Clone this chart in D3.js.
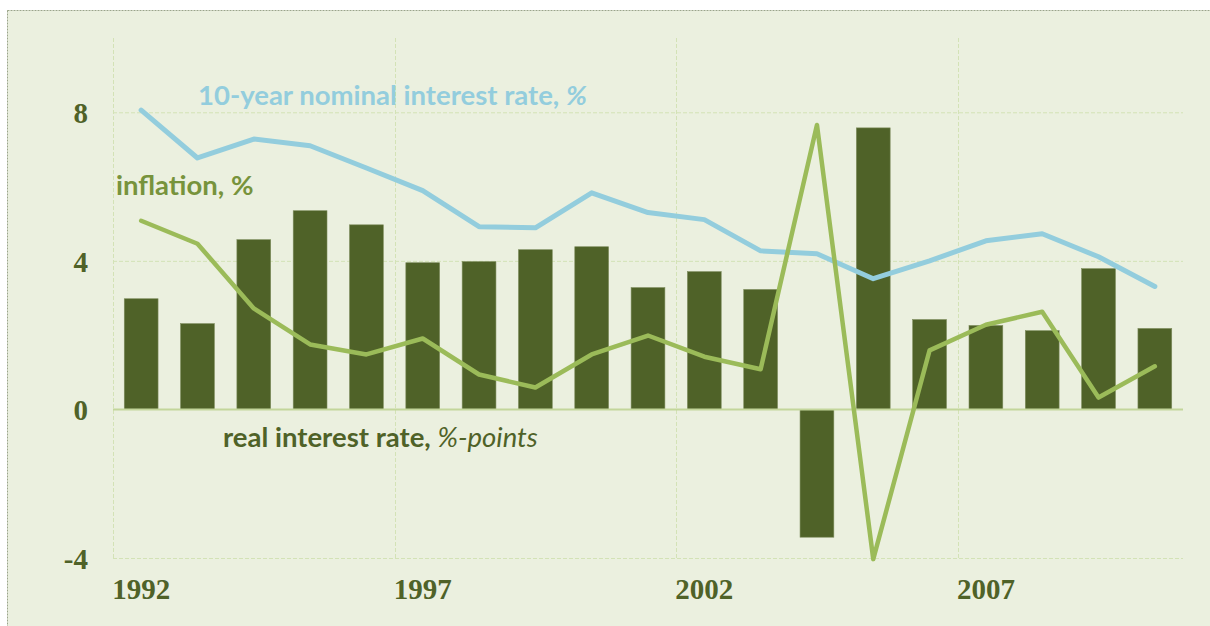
<!DOCTYPE html>
<html lang="en">
<head>
    <meta charset="UTF-8">
    <title>Real interest rate</title>
    <style>
        body {
            margin: 0;
            padding: 0;
            background-color: #fff;
        }
        svg text {
            font-family: 'Lato', 'Open Sans', sans-serif;
        }
        .tick text {
            font-family: 'Liberation Serif', serif;
            font-weight: bold;
            font-size: 29px;
            fill: #4f6228;
        }
    </style>
    <script src="https://d3js.org/d3.v7.min.js"></script>
</head>
<body>
<div id="chart"></div>
<script>
    const years = d3.range(1992, 2011).map(String);
    const realRate = [2.98, 2.31, 4.57, 5.35, 4.97, 3.95, 3.98, 4.30, 4.38, 3.28,
                      3.71, 3.23, -3.44, 7.58, 2.42, 2.26, 2.12, 3.79, 2.18];
    const nominalRate = [8.06, 6.77, 7.28, 7.10, 6.50, 5.89, 4.92, 4.89, 5.83, 5.30,
                         5.11, 4.27, 4.19, 3.52, 4.00, 4.54, 4.73, 4.11, 3.31];
    const inflation = [5.08, 4.46, 2.72, 1.75, 1.48, 1.91, 0.94, 0.59, 1.48, 1.99,
                       1.42, 1.08, 7.66, -4.03, 1.59, 2.28, 2.63, 0.32, 1.16];
    const yTicks = [-4, 0, 4, 8];
    const xTickYears = ["1992", "1997", "2002", "2007"];

    const width = 1210, height = 626;
    const plot = { left: 113, right: 1183, top: 38, bottom: 558 };

    const svg = d3.select("#chart").append("svg")
        .attr("width", width)
        .attr("height", height);

    // chart area with dashed border
    svg.append("rect")
        .attr("x", 7.5).attr("y", 10.5)
        .attr("width", width + 20).attr("height", height + 20)
        .attr("fill", "#ebf0df")
        .attr("stroke", "#9aa58a")
        .attr("stroke-width", 1)
        .attr("stroke-dasharray", "2,1");

    const x = d3.scaleBand()
        .domain(years)
        .range([plot.left, plot.right])
        .paddingInner(0.4)
        .paddingOuter(0.2);

    const y = d3.scaleLinear()
        .domain([-4, 10])
        .range([plot.bottom, plot.top]);

    const step = x.step();
    const bandLeft = d => x(d) - x.paddingInner() * step / 2;

    // gridlines
    const grid = svg.append("g");
    grid.selectAll("line.h")
        .data(yTicks.filter(d => d !== 0))
        .enter().append("line")
        .attr("x1", plot.left).attr("x2", plot.right)
        .attr("y1", d => y(d) + 0.5).attr("y2", d => y(d) + 0.5)
        .attr("stroke", "#d3e2b6")
        .attr("stroke-dasharray", "4,2");
    grid.selectAll("line.v")
        .data(xTickYears)
        .enter().append("line")
        .attr("x1", d => Math.round(bandLeft(d)) + 0.5)
        .attr("x2", d => Math.round(bandLeft(d)) + 0.5)
        .attr("y1", plot.top).attr("y2", plot.bottom)
        .attr("stroke", "#d3e2b6")
        .attr("stroke-dasharray", "4,2");

    // bars
    svg.append("g").selectAll("rect")
        .data(years)
        .enter().append("rect")
        .attr("x", d => x(d))
        .attr("width", x.bandwidth())
        .attr("y", (d, i) => y(Math.max(0, realRate[i])))
        .attr("height", (d, i) => Math.abs(y(realRate[i]) - y(0)))
        .attr("fill", "#4f6228")
        .attr("stroke", "#7d8c5c")
        .attr("stroke-width", 0.6);

    // zero line
    svg.append("line")
        .attr("x1", plot.left).attr("x2", plot.right)
        .attr("y1", y(0)).attr("y2", y(0))
        .attr("stroke", "#c3d69b")
        .attr("stroke-width", 2);

    const line = d3.line()
        .x((d, i) => x(years[i]) + x.bandwidth() / 2)
        .y(d => y(d));

    svg.append("path")
        .datum(nominalRate)
        .attr("d", line)
        .attr("fill", "none")
        .attr("stroke", "#93cddd")
        .attr("stroke-width", 5)
        .attr("stroke-linejoin", "round")
        .attr("stroke-linecap", "round");

    svg.append("path")
        .datum(inflation)
        .attr("d", line)
        .attr("fill", "none")
        .attr("stroke", "#9bbb59")
        .attr("stroke-width", 4.5)
        .attr("stroke-linejoin", "round")
        .attr("stroke-linecap", "round");

    // axes
    const yAxis = svg.append("g")
        .attr("transform", `translate(${plot.left - 25},0)`)
        .call(d3.axisLeft(y).tickValues(yTicks).tickSize(0).tickPadding(0)
            .tickFormat(d => String(d)));
    yAxis.select(".domain").remove();
    yAxis.selectAll(".tick text").attr("dy", "0.36em");

    const xAxis = svg.append("g")
        .attr("transform", `translate(0,${plot.bottom})`)
        .call(d3.axisBottom(x).tickValues(xTickYears).tickSize(0).tickPadding(20));
    xAxis.select(".domain").remove();

    // series labels
    const nomLabel = svg.append("text")
        .attr("x", 198).attr("y", 105)
        .attr("font-size", 27.5).attr("font-weight", "bold")
        .attr("fill", "#93cddd");
    nomLabel.append("tspan").text("10-year nominal interest rate, ");
    nomLabel.append("tspan").attr("font-style", "italic").text("%");

    svg.append("text")
        .attr("x", 116).attr("y", 195)
        .attr("font-size", 27.5).attr("font-weight", "bold")
        .attr("fill", "#77933c")
        .text("inflation, %");

    const realLabel = svg.append("text")
        .attr("x", 223).attr("y", 447)
        .attr("font-size", 27.5)
        .attr("fill", "#4f6228");
    realLabel.append("tspan").attr("font-weight", "bold").text("real interest rate, ");
    realLabel.append("tspan").attr("font-style", "italic").text("%-points");
</script>
</body>
</html>
